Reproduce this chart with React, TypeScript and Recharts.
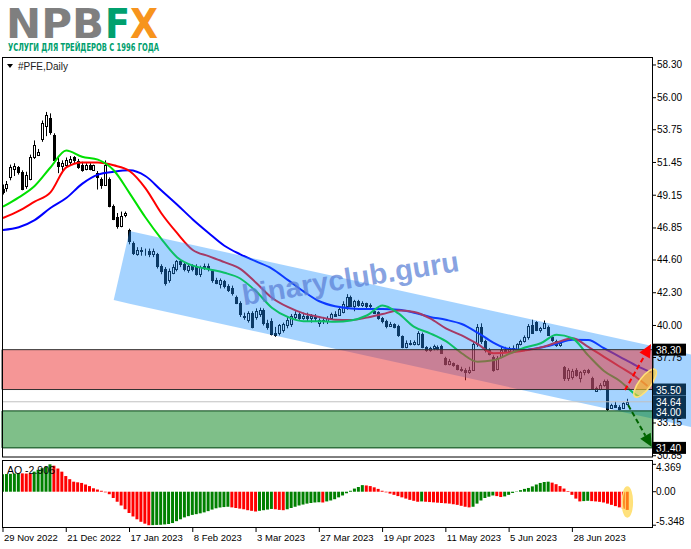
import React from "react";
import {
  ComposedChart,
  Bar,
  Line,
  Area,
  XAxis,
  YAxis,
  ReferenceArea,
  ReferenceLine,
  ReferenceDot,
  Cell,
} from "recharts";

const FONT = "'Liberation Sans', Arial, sans-serif";

// ---- axis labels ----
const dateLabels = [
  "29 Nov 2022", "21 Dec 2022", "17 Jan 2023", "8 Feb 2023", "3 Mar 2023",
  "27 Mar 2023", "19 Apr 2023", "11 May 2023", "5 Jun 2023", "28 Jun 2023",
];
const dateIdx = [0, 16, 32, 48, 64, 80, 96, 112, 128, 144];
const priceTicks = [58.3, 56.0, 53.75, 51.45, 49.15, 46.85, 44.6, 42.3, 40.0, 37.75, 33.15, 30.85];
const aoTicks = [4.369, 0, -5.348];

// ---- daily candles #PFE ----
const open = [
  49.6, 49.65, 50.45, 51.0, 51.1, 50.8, 49.8, 50.3, 51.8, 52.0,
  53.1, 54.0, 54.6, 53.4, 51.5, 51.2, 51.3, 51.5, 51.8, 51.55,
  51.3, 51.0, 51.25, 50.95, 50.7, 50.3, 49.9, 50.3, 48.4, 47.6,
  47.0, 47.75, 46.7, 45.8, 45.05, 45.3, 45.2, 45.2, 45.0, 45.0,
  44.2, 44.0, 43.2, 43.7, 44.0, 44.5, 44.3, 43.9, 44.2, 44.1,
  43.6, 44.1, 44.2, 43.8, 43.2, 42.9, 43.1, 42.8, 42.6, 42.0,
  41.6, 40.7, 40.4, 40.9, 40.6, 40.8, 41.1, 40.2, 40.3, 39.5,
  39.5, 39.7, 40.0, 40.1, 40.6, 40.8, 40.5, 40.7, 40.5, 40.6,
  40.2, 40.4, 40.3, 40.5, 40.8, 40.75, 40.95, 41.4, 42.0, 41.4,
  41.7, 41.45, 41.55, 41.35, 41.05, 40.95, 40.5, 40.3, 39.95, 40.1,
  39.95, 39.25, 38.5, 38.8, 38.7, 38.7, 39.4, 38.5, 38.3, 38.4,
  38.5, 38.55, 37.7, 37.3, 37.35, 37.2, 36.95, 36.85, 36.7, 36.9,
  38.7, 39.9, 38.9, 38.25, 37.8, 36.95, 37.8, 38.3, 38.2, 38.4,
  38.35, 38.7, 38.9, 39.2, 40.0, 40.25, 39.7, 39.85, 39.9, 39.2,
  38.9, 38.6, 37.1, 36.3, 36.4, 36.9, 36.3, 36.7, 36.85, 36.3,
  35.4, 35.55, 35.8, 36.1, 34.2, 34.4, 34.3, 34.2, 34.5,
];
const high = [
  49.9, 50.15, 51.3, 51.4, 51.2, 50.9, 50.8, 52.0, 53.0, 52.4,
  54.4, 55.0, 54.9, 53.5, 51.8, 51.6, 51.8, 51.9, 51.9, 51.7,
  51.5, 51.4, 51.4, 51.3, 50.85, 50.4, 51.6, 50.4, 48.5, 47.9,
  48.0, 48.0, 46.8, 45.9, 45.5, 45.5, 45.4, 45.4, 45.4, 45.1,
  44.3, 44.1, 44.0, 44.3, 44.6, 44.6, 44.4, 44.3, 44.3, 44.3,
  44.2, 44.35, 44.35, 43.9, 43.35, 43.3, 43.2, 42.9, 42.8, 42.1,
  41.7, 40.9, 41.0, 41.0, 41.2, 41.25, 41.2, 40.4, 40.5, 39.9,
  40.1, 40.2, 40.6, 40.8, 41.0, 40.95, 40.9, 40.9, 40.8, 40.8,
  40.5, 40.6, 40.65, 40.9, 41.0, 41.3, 41.7, 42.2, 42.1, 41.8,
  41.8, 41.7, 41.6, 41.55, 41.15, 41.0, 40.6, 40.4, 40.25, 40.15,
  40.05, 39.3, 38.95, 38.97, 38.95, 39.6, 39.5, 38.55, 38.5, 38.65,
  38.6, 38.65, 37.8, 37.65, 37.4, 37.25, 37.1, 37.0, 37.1, 38.9,
  40.1, 40.15, 39.0, 38.4, 37.9, 37.85, 38.5, 38.5, 38.5, 38.6,
  38.75, 39.0, 39.3, 40.1, 40.4, 40.3, 39.9, 40.35, 40.0, 39.3,
  39.0, 38.9, 37.15, 37.0, 36.95, 37.0, 36.8, 36.9, 36.95, 36.4,
  35.7, 35.95, 36.2, 36.2, 34.5, 34.65, 34.4, 34.6, 34.85,
];
const low = [
  49.2, 49.4, 50.2, 50.5, 50.6, 49.5, 49.6, 50.2, 51.7, 51.9,
  52.9, 53.3, 53.4, 51.4, 50.7, 50.8, 51.1, 51.2, 51.4, 51.0,
  50.8, 50.9, 50.9, 50.9, 49.55, 49.6, 49.8, 48.3, 47.4, 46.8,
  46.9, 47.6, 45.7, 44.95, 44.9, 44.9, 44.9, 44.8, 44.8, 44.0,
  43.6, 42.8, 43.0, 43.6, 43.8, 44.1, 43.8, 43.7, 43.8, 43.5,
  43.4, 43.9, 43.8, 43.0, 42.9, 42.6, 42.6, 42.35, 42.1, 41.5,
  40.6, 40.4, 40.2, 39.8, 40.4, 40.6, 40.0, 39.7, 39.3, 39.2,
  39.3, 39.5, 39.8, 39.9, 40.4, 40.4, 40.4, 40.3, 40.2, 40.3,
  39.9, 40.1, 40.1, 40.4, 40.6, 40.7, 40.85, 41.1, 41.3, 41.0,
  41.3, 41.3, 41.2, 41.1, 40.85, 40.4, 40.15, 39.8, 39.9, 39.8,
  39.2, 38.4, 38.4, 38.6, 38.6, 38.6, 38.4, 38.15, 38.15, 38.25,
  38.25, 38.0, 37.2, 37.2, 37.1, 36.85, 36.75, 36.15, 36.6, 36.85,
  38.5, 38.7, 38.1, 37.9, 36.75, 36.85, 37.7, 38.1, 38.05, 38.2,
  38.3, 38.6, 38.8, 39.0, 39.4, 39.6, 39.5, 39.8, 39.3, 38.85,
  38.5, 38.5, 36.1, 36.1, 36.2, 36.4, 36.0, 36.5, 36.6, 35.5,
  35.35, 35.45, 35.7, 34.0, 34.15, 34.2, 34.05, 34.15, 34.4,
];
const close = [
  49.35, 49.95, 51.1, 51.2, 50.8, 49.6, 50.6, 51.8, 52.7, 52.2,
  54.2, 54.8, 53.6, 51.6, 51.2, 51.4, 51.6, 51.7, 51.6, 51.1,
  50.9, 51.3, 51.0, 51.25, 50.45, 49.9, 51.3, 48.4, 47.5, 47.0,
  47.7, 47.9, 45.9, 45.1, 45.3, 45.2, 45.25, 45.05, 45.2, 44.2,
  43.8, 43.0, 43.85, 44.1, 44.5, 44.3, 44.0, 44.2, 44.0, 43.6,
  44.1, 44.2, 43.95, 43.2, 43.0, 43.2, 42.8, 42.5, 42.3, 41.6,
  40.8, 40.6, 40.9, 39.9, 41.0, 41.1, 40.2, 39.9, 39.4, 39.3,
  40.0, 40.1, 40.4, 40.7, 40.8, 40.5, 40.7, 40.5, 40.7, 40.5,
  40.4, 40.3, 40.55, 40.8, 40.7, 41.15, 41.5, 42.0, 41.4, 41.7,
  41.45, 41.6, 41.35, 41.45, 40.9, 40.5, 40.3, 39.95, 40.1, 39.9,
  39.3, 38.5, 38.8, 38.7, 38.85, 39.45, 38.5, 38.3, 38.45, 38.55,
  38.35, 38.1, 37.3, 37.5, 37.2, 36.95, 36.85, 36.7, 36.9, 38.7,
  39.9, 38.9, 38.25, 38.0, 36.9, 37.7, 38.3, 38.2, 38.4, 38.35,
  38.7, 38.9, 39.2, 39.95, 39.5, 39.7, 39.8, 40.2, 39.35, 38.95,
  38.6, 38.8, 36.3, 36.9, 36.8, 36.5, 36.7, 36.85, 36.7, 35.6,
  35.6, 35.85, 36.1, 34.15, 34.4, 34.3, 34.15, 34.55, 34.64,
];

// ---- Alligator lines (read every 4 bars, shifted past the last bar) ----
const jawIdx = [0, 4, 8, 12, 16, 20, 24, 28, 32, 36, 40, 44, 48, 52, 56, 60, 64, 68, 72, 76, 80, 84, 88, 92, 96, 100, 104, 108, 112, 116, 120, 124, 128, 132, 136, 140, 144, 148, 152, 156, 160, 164];
const jawVal = [46.71, 46.9, 47.4, 48.25, 48.95, 49.95, 50.6, 50.8, 50.9, 50.5, 49.5, 48.5, 47.45, 46.5, 45.6, 45.0, 44.5, 44.0, 43.2, 42.4, 41.7, 41.35, 41.2, 41.15, 41.15, 41.1, 40.9, 40.6, 40.4, 40.1, 39.5, 38.8, 38.35, 38.3, 38.45, 38.72, 39.0, 38.98, 38.4, 37.8, 37.2, 36.7];
const teethIdx = [0, 4, 8, 12, 16, 20, 24, 28, 32, 36, 40, 44, 48, 52, 56, 60, 64, 68, 72, 76, 80, 84, 88, 92, 96, 100, 104, 108, 112, 116, 120, 124, 128, 132, 136, 140, 144, 148, 152, 156, 160, 163];
const teethVal = [47.55, 48.05, 48.7, 49.35, 51.1, 51.45, 51.45, 51.25, 50.85, 49.65, 47.9, 46.5, 45.3, 44.87, 44.45, 43.98, 43.0, 41.95, 41.3, 40.85, 40.6, 40.4, 40.38, 40.55, 40.8, 41.05, 40.95, 40.5, 39.8, 39.3, 38.7, 38.05, 38.1, 38.25, 38.45, 38.8, 39.1, 38.5, 37.8, 37.1, 36.4, 35.75];
const lipsIdx = [0, 4, 8, 12, 16, 20, 24, 28, 32, 36, 40, 44, 48, 52, 56, 60, 64, 68, 72, 76, 80, 84, 88, 92, 96, 100, 104, 108, 112, 116, 120, 124, 128, 132, 136, 140, 144, 148, 152, 156, 160, 161];
const lipsVal = [48.34, 49.0, 49.8, 51.1, 52.3, 51.85, 51.65, 50.9, 49.3, 47.6, 46.1, 44.8, 44.2, 43.95, 43.7, 43.3, 42.4, 41.25, 40.6, 40.3, 40.3, 40.26, 40.35, 40.7, 41.4, 40.85, 39.9, 39.45, 38.9, 38.05, 37.45, 37.55, 38.0, 38.45, 38.75, 39.35, 39.1, 37.9, 36.8, 36.1, 35.15, 35.0];

// ---- descending channel (drawn object) ----
const chanIdx = [28, 32, 174];
const chanLow = [41.79, 41.53, 32.86];
const chanHigh = [41.79, 46.63, 37.96];

// ---- levels ----
const sellZone = [35.5, 38.3];
const buyZone = [31.4, 34.0];
const bidPrice = 34.64;

// ---- Awesome Oscillator ----
const ao = [
  2.8, 2.82, 2.85, 2.9, 2.95, 2.93, 2.9, 2.88, 3.2, 3.5,
  3.75, 4.0, 4.369, 4.15, 3.7, 3.2, 2.5, 2.0, 1.6, 1.5,
  1.4, 1.15, 0.9, 0.55, 0.35, 0.15, -0.1, -0.4, -1.0, -1.6,
  -2.2, -2.8, -3.4, -3.95, -4.4, -4.8, -5.1, -5.348, -5.33, -5.3,
  -5.28, -5.22, -5.15, -5.0, -4.7, -4.4, -4.1, -3.9, -3.7, -3.58,
  -3.45, -3.3, -3.1, -2.85, -2.65, -2.52, -2.45, -2.4, -2.5, -2.6,
  -2.7, -2.8, -2.95, -3.05, -3.15, -3.05, -2.95, -2.85, -2.75, -2.8,
  -2.9, -2.95, -2.8, -2.6, -2.4, -2.2, -2.05, -1.9, -1.8, -1.72,
  -1.68, -1.72, -1.55, -1.4, -1.2, -0.9, -0.6, -0.25, 0.15, 0.5,
  0.75, 1.05, 1.0, 0.9, 0.7, 0.45, 0.15, -0.1, -0.3, -0.5,
  -0.7, -0.9, -1.1, -1.3, -1.45, -1.6, -1.55, -1.6, -1.65, -1.7,
  -1.75, -1.8, -1.85, -1.9, -2.0, -2.1, -2.25, -2.4, -2.5, -2.4,
  -1.9, -1.4, -1.0, -0.8, -0.6, -0.7, -0.85, -0.75, -0.5, -0.2,
  0.05, 0.25, 0.45, 0.6, 0.85, 1.15, 1.4, 1.55, 1.6, 1.45,
  1.2, 0.9, 0.5, 0.1, -0.5, -1.1, -1.55, -1.5, -1.45, -1.5,
  -1.55, -1.62, -1.72, -1.9, -2.1, -2.3, -2.5, -2.72, -2.906,
];

const X_DOMAIN = [-0.25, 174];
const FRAME_END = 164.4;
const FRAME_R = 653;

const rows: any[] = Array.from({ length: 175 }, (_, i) => ({
  i,
  o: i < open.length ? open[i] : null,
  h: i < high.length ? high[i] : null,
  l: i < low.length ? low[i] : null,
  c: i < close.length ? close[i] : null,
  jaw: null,
  teeth: null,
  lips: null,
  chan: null,
}));
jawIdx.forEach((k, j) => (rows[k].jaw = jawVal[j]));
teethIdx.forEach((k, j) => (rows[k].teeth = teethVal[j]));
lipsIdx.forEach((k, j) => (rows[k].lips = lipsVal[j]));
chanIdx.forEach((k, j) => (rows[k].chan = [chanLow[j], chanHigh[j]]));

const aoRows = ao.map((v, i) => ({ i, ao: v }));

function Candle(p: any) {
  const r = p.payload;
  if (!r || r.o == null || !isFinite(p.y) || !isFinite(p.height)) return <g />;
  const k = r.h > r.l ? p.height / (r.h - r.l) : 0;
  const yO = p.y + (r.h - r.o) * k;
  const yC = p.y + (r.h - r.c) * k;
  const cx = Math.round(p.x + p.width / 2) + 0.5;
  const top = Math.round(Math.min(yO, yC)) + 0.5;
  const bot = Math.round(Math.max(yO, yC)) + 0.5;
  return (
    <g>
      <line x1={cx} x2={cx} y1={p.y} y2={p.y + p.height} stroke="#000" strokeWidth={1} />
      <rect x={cx - 1} y={top} width={2} height={Math.max(bot - top, 0)} fill={r.c >= r.o ? "#fff" : "#000"} stroke="#000" strokeWidth={1} />
    </g>
  );
}

function PriceTick(p: any) {
  const v = p.payload.value;
  return (
    <g>
      <line x1={FRAME_R} x2={FRAME_R + 3} y1={p.y} y2={p.y} stroke="#000" />
      <text x={FRAME_R + 4} y={p.y + 3.5} fontSize={10} fontFamily={FONT} fill="#000">{v.toFixed(2)}</text>
    </g>
  );
}

function AoTick(p: any) {
  const v = p.payload.value;
  const dy = v > 0 ? 3.4 : v < 0 ? -3.5 : 0;
  return (
    <g>
      <line x1={FRAME_R} x2={FRAME_R + 3} y1={p.y} y2={p.y} stroke="#000" />
      <text x={FRAME_R + 3} y={p.y + dy + 3.5} fontSize={10} fontFamily={FONT} fill="#000">{v === 0 ? "0.00" : String(v)}</text>
    </g>
  );
}

function DateTick(p: any) {
  const k = dateIdx.indexOf(p.payload.value);
  return (
    <g>
      <line x1={p.x} x2={p.x} y1={p.y} y2={p.y + 4} stroke="#000" />
      <text x={p.x + 1} y={p.y + 13} fontSize={9.5} fontFamily={FONT} fill="#000">{dateLabels[k]}</text>
    </g>
  );
}

const priceBox = (bg: string, lines: string[]) => (props: any) => {
  const y = props.viewBox.y;
  return (
    <g>
      <rect x={FRAME_R} y={y - 6} width={33} height={11 * lines.length + 1} fill={bg} />
      {lines.map((t, k) => (
        <text key={k} x={FRAME_R + 3} y={y + 4 + k * 10} fontSize={10} fontFamily={FONT} fill="#fff">{t}</text>
      ))}
    </g>
  );
};

const arrowShape = (color: string) => (p: any) => {
  const { x1, y1, x2, y2 } = p;
  const a = Math.atan2(y2 - y1, x2 - x1);
  const L = 13;
  const W = 6;
  const bx = x2 - L * Math.cos(a);
  const by = y2 - L * Math.sin(a);
  const px = -Math.sin(a) * W;
  const py = Math.cos(a) * W;
  return (
    <g>
      <line x1={x1} y1={y1} x2={bx} y2={by} stroke={color} strokeWidth={2} strokeDasharray="5 3" />
      <polygon points={`${x2},${y2} ${bx + px},${by + py} ${bx - px},${by - py}`} fill={color} />
    </g>
  );
};

const ellipseShape = (rx: number, ry: number, rot: number) => (p: any) => (
  <ellipse
    cx={p.cx}
    cy={p.cy}
    rx={rx}
    ry={ry}
    transform={`rotate(${rot} ${p.cx} ${p.cy})`}
    fill="rgb(255,205,40)"
    fillOpacity={0.6}
    stroke="rgb(255,225,120)"
    strokeWidth={1.5}
  />
);

function Header() {
  return (
    <svg width={691} height={57} style={{ position: "absolute", left: 0, top: 0 }}>
      <text x={6} y={38} fontFamily="'DejaVu Sans', sans-serif" fontWeight="bold" fontSize={41} fill="#7f7f7f" textLength={98} lengthAdjust="spacingAndGlyphs">NPB</text>
      <text x={105} y={38} fontFamily="'DejaVu Sans', sans-serif" fontWeight="bold" fontSize={41} fill="#00a06e" textLength={25} lengthAdjust="spacingAndGlyphs">F</text>
      <text x={130} y={38} fontFamily="'DejaVu Sans', sans-serif" fontWeight="bold" fontSize={41} fill="#f7941d" textLength={28} lengthAdjust="spacingAndGlyphs">X</text>
      <text x={8} y={51} fontFamily="'DejaVu Sans Condensed', 'DejaVu Sans', sans-serif" fontWeight="bold" fontSize={10.5} fill="#00a06e" textLength={151} lengthAdjust="spacingAndGlyphs">УСЛУГИ ДЛЯ ТРЕЙДЕРОВ С 1996 ГОДА</text>
    </svg>
  );
}

export default function App() {
  return (
    <div style={{ position: "absolute", left: 0, top: 0, width: 691, height: 549, background: "#fff", overflow: "hidden" }}>
      <style>{".recharts-surface{overflow:visible}"}</style>
      <Header />
      <div style={{ position: "absolute", left: 0, top: 57 }}>
        <ComposedChart width={691} height={400} data={rows} margin={{ top: 0, right: 0, bottom: 0, left: 2 }}>
          <XAxis dataKey="i" type="number" domain={X_DOMAIN} hide allowDataOverflow />
          <Bar dataKey={(r: any) => (r.o == null ? null : [r.l, r.h])} barSize={3} shape={(p: any) => <Candle {...p} />} isAnimationActive={false} />
          <Line dataKey="jaw" type="monotone" stroke="#0000ff" strokeWidth={2} dot={false} connectNulls isAnimationActive={false} />
          <Line dataKey="teeth" type="monotone" stroke="#ff0000" strokeWidth={2} dot={false} connectNulls isAnimationActive={false} />
          <Line dataKey="lips" type="monotone" stroke="#00e000" strokeWidth={2} dot={false} connectNulls isAnimationActive={false} />
          <Area dataKey="chan" type="linear" stroke="none" fill="rgb(30,144,255)" fillOpacity={0.4} connectNulls isAnimationActive={false} zIndex={450} />
          <ReferenceArea x1={X_DOMAIN[0]} x2={FRAME_END} y1={sellZone[0]} y2={sellZone[1]} fill="rgb(235,45,45)" fillOpacity={0.5} stroke="#303030" strokeWidth={1} zIndex={460} />
          <ReferenceArea x1={X_DOMAIN[0]} x2={FRAME_END} y1={buyZone[0]} y2={buyZone[1]} fill="rgb(0,128,20)" fillOpacity={0.5} stroke="#004010" strokeWidth={1} zIndex={460} />
          <ReferenceLine segment={[{ x: X_DOMAIN[0], y: bidPrice }, { x: FRAME_END, y: bidPrice }]} stroke="#c0c0c0" strokeWidth={1} zIndex={470} />
          <ReferenceLine segment={[{ x: 157.3, y: 35.46 }, { x: 163.9, y: 38.69 }]} shape={arrowShape("#ff0000")} zIndex={600} />
          <ReferenceLine segment={[{ x: 158.1, y: 34.41 }, { x: 164.1, y: 31.46 }]} shape={arrowShape("#006400")} zIndex={600} />
          <ReferenceDot x={162.4} y={35.95} r={1} shape={ellipseShape(6, 17, 37)} zIndex={650} />
          <YAxis type="number" orientation="right" mirror domain={[30.76, 58.86]} ticks={priceTicks} interval={0} allowDataOverflow axisLine={false} tickLine={false} tick={(p: any) => <PriceTick {...p} />} />
          <ReferenceLine y={sellZone[1]} stroke="none" label={priceBox("#000", ["38.30"])} zIndex={700} />
          <ReferenceLine y={sellZone[0]} stroke="none" label={priceBox("#0b3150", ["35.50"])} zIndex={700} />
          <ReferenceLine y={bidPrice} stroke="none" label={priceBox("#0b3150", ["34.64", "34.00"])} zIndex={700} />
          <ReferenceLine y={buyZone[0]} stroke="none" label={priceBox("#000", ["31.40"])} zIndex={700} />
        </ComposedChart>
      </div>
      <div style={{ position: "absolute", left: 0, top: 460 }}>
        <ComposedChart width={691} height={89} data={aoRows} margin={{ top: 0, right: 0, bottom: 0, left: 2 }}>
          <XAxis dataKey="i" type="number" domain={X_DOMAIN} ticks={dateIdx} interval={0} allowDataOverflow axisLine={false} tickLine={false} tickSize={0} tickMargin={0} height={21} tick={(p: any) => <DateTick {...p} />} />
          <YAxis type="number" orientation="right" mirror domain={[-5.79, 5.06]} ticks={aoTicks} interval={0} allowDataOverflow axisLine={false} tickLine={false} tick={(p: any) => <AoTick {...p} />} />
          <Bar dataKey="ao" barSize={3} isAnimationActive={false}>
            {aoRows.map((r, k) => (
              <Cell key={k} fill={k === 0 || r.ao > ao[k - 1] ? "#008000" : "#ff0000"} />
            ))}
          </Bar>
          <ReferenceDot x={157.9} y={-1.64} r={1} shape={ellipseShape(5, 15, 0)} zIndex={650} />
        </ComposedChart>
      </div>
      <svg width={691} height={549} style={{ position: "absolute", left: 0, top: 0, pointerEvents: "none" }}>
        <rect x={2.5} y={57.5} width={650} height={399.5} fill="none" stroke="#000" strokeWidth={1} />
        <rect x={2.5} y={460.5} width={650} height={67} fill="none" stroke="#000" strokeWidth={1} />
        <polygon points="7,64 13,64 10,68" fill="#000" />
        <text x={18} y={70} fontSize={10} fontFamily={FONT} fill="#202020">#PFE,Daily</text>
        <text x={7} y={474} fontSize={10.5} fontFamily={FONT} fill="#000">AO -2.906</text>
        <text x={352} y={288} transform="rotate(-9 352 288)" textAnchor="middle" fontSize={29} fontWeight="bold" fontFamily={FONT} fill="#5a7fd6" fillOpacity={0.72}>binaryclub.guru</text>
      </svg>
    </div>
  );
}
